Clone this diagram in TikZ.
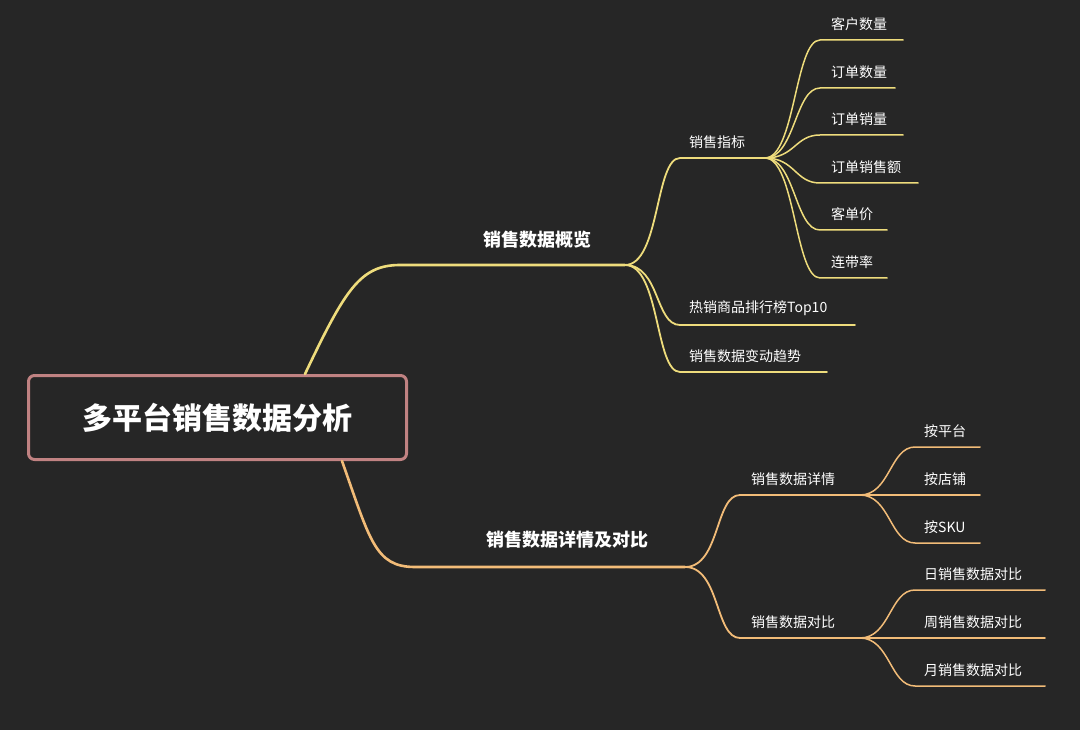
\documentclass[tikz,border=0pt]{standalone}
\usepackage{fontspec}
\newfontfamily\cjk{Noto Sans CJK SC}
\definecolor{bg}{HTML}{262626}
\definecolor{yl}{HTML}{EEDC7C}
\definecolor{og}{HTML}{F2BC78}
\definecolor{rootb}{HTML}{C08282}
\begin{document}
\begin{tikzpicture}[x=1pt,y=-1pt,
  lab/.style={text=white,inner sep=1pt,font=\cjk\fontsize{14}{16}\selectfont,anchor=south west},
  mid/.style={text=white,inner sep=1pt,font=\cjk\bfseries\fontsize{18}{20}\selectfont},
  yb/.style={draw=yl,line width=1.8pt,line cap=round},
  ob/.style={draw=og,line width=1.8pt,line cap=round}]
\fill[bg] (0,0) rectangle (1080,730);
% root
\node[draw=rootb,line width=3pt,fill=bg,rounded corners=6pt,minimum width=378pt,minimum height=84pt,text=white,font=\cjk\bfseries\fontsize{30}{34}\selectfont] (root) at (217.5,417.5) {多平台销售数据分析};
\coordinate (rt) at (305,374);
\coordinate (rb) at (342,461);
% branch 1
\coordinate (m1a) at (400,265); \coordinate (m1b) at (625,265);
\draw[yb,line width=2.6pt] (rt) .. controls (345,290) and (360,265) .. (m1a) -- (m1b);
\node[mid] (m1) at (537,240) {销售数据概览};
\coordinate (s1a) at (680,158); \coordinate (s1b) at (765,158);
\coordinate (s2a) at (680,325); \coordinate (s2b) at (855,325);
\coordinate (s3a) at (680,372); \coordinate (s3b) at (827,372);
\foreach \a/\b in {s1a/s1b,s2a/s2b,s3a/s3b}{
  \draw[yb] (m1b) .. controls +(35,0) and +(-25,0) .. (\a) -- (\b);}
\node[lab] (t11) at (688,150) {销售指标};
\node[lab] (t12) at (688,317) {热销商品排行榜Top10};
\node[lab] (t13) at (688,364) {销售数据变动趋势};
% leaves of 销售指标
\coordinate (l1a) at (820,40);  \coordinate (l1b) at (903,40);
\coordinate (l2a) at (820,88);  \coordinate (l2b) at (895,88);
\coordinate (l3a) at (820,135); \coordinate (l3b) at (903,135);
\coordinate (l4a) at (820,183); \coordinate (l4b) at (918,183);
\coordinate (l5a) at (820,230); \coordinate (l5b) at (887,230);
\coordinate (l6a) at (820,278); \coordinate (l6b) at (887,278);
\foreach \a/\b in {l1a/l1b,l2a/l2b,l3a/l3b,l4a/l4b,l5a/l5b,l6a/l6b}{
  \draw[yb,line width=1.5pt] (s1b) .. controls +(30,0) and +(-25,0) .. (\a) -- (\b);}
\node[lab] (u1) at (830,32) {客户数量};
\node[lab] (u2) at (830,80) {订单数量};
\node[lab] (u3) at (830,127) {订单销量};
\node[lab] (u4) at (830,175) {订单销售额};
\node[lab] (u5) at (830,222) {客单价};
\node[lab] (u6) at (830,270) {连带率};
% branch 2
\coordinate (m2a) at (415,567); \coordinate (m2b) at (685,567);
\draw[ob,line width=2.6pt] (rb) .. controls (370,540) and (375,567) .. (m2a) -- (m2b);
\node[mid] (m2) at (567,540) {销售数据详情及对比};
\coordinate (d1a) at (740,495); \coordinate (d1b) at (860,495);
\coordinate (d2a) at (740,638); \coordinate (d2b) at (860,638);
\foreach \a/\b in {d1a/d1b,d2a/d2b}{
  \draw[ob] (m2b) .. controls +(35,0) and +(-25,0) .. (\a) -- (\b);}
\node[lab] (t21) at (750,487) {销售数据详情};
\node[lab] (t22) at (750,630) {销售数据对比};
\coordinate (k1a) at (915,447); \coordinate (k1b) at (980,447);
\coordinate (k2a) at (915,495); \coordinate (k2b) at (980,495);
\coordinate (k3a) at (915,543); \coordinate (k3b) at (980,543);
\foreach \a/\b in {k1a/k1b,k2a/k2b,k3a/k3b}{
  \draw[ob,line width=1.5pt] (d1b) .. controls +(30,0) and +(-25,0) .. (\a) -- (\b);}
\coordinate (j1a) at (915,590); \coordinate (j1b) at (1045,590);
\coordinate (j2a) at (915,638); \coordinate (j2b) at (1045,638);
\coordinate (j3a) at (915,686); \coordinate (j3b) at (1045,686);
\foreach \a/\b in {j1a/j1b,j2a/j2b,j3a/j3b}{
  \draw[ob,line width=1.5pt] (d2b) .. controls +(30,0) and +(-25,0) .. (\a) -- (\b);}
\node[lab] (v1) at (923,439) {按平台};
\node[lab] (v2) at (923,487) {按店铺};
\node[lab] (v3) at (923,535) {按SKU};
\node[lab] (w1) at (923,582) {日销售数据对比};
\node[lab] (w2) at (923,630) {周销售数据对比};
\node[lab] (w3) at (923,678) {月销售数据对比};
\end{tikzpicture}
\end{document}
